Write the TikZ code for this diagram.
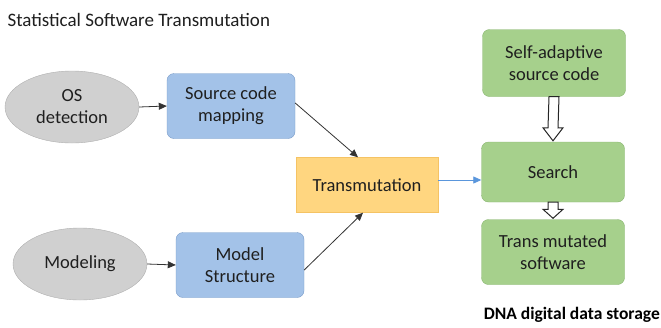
\documentclass[tikz,border=0pt]{standalone}
\usepackage{fontspec}
\setmainfont{Carlito}
\usetikzlibrary{calc,arrows.meta,shapes.geometric}
\definecolor{grayfill}{RGB}{208,208,208}
\definecolor{grayline}{RGB}{175,175,175}
\definecolor{bluefill}{RGB}{163,194,232}
\definecolor{blueline}{RGB}{120,155,200}
\definecolor{orfill}{RGB}{255,214,128}
\definecolor{orline}{RGB}{245,195,100}
\definecolor{grfill}{RGB}{166,208,140}
\definecolor{grline}{RGB}{135,180,110}
\definecolor{bluearrow}{RGB}{90,150,220}
\tikzset{
  every node/.style={font=\fontsize{18.5}{22}\selectfont, text=black!88, align=center},
  oval/.style={ellipse, draw=grayline, fill=grayfill, minimum width=134pt, minimum height=72pt, inner sep=0pt},
  bluebox/.style={draw=blueline, fill=bluefill, rounded corners=7pt, minimum width=128pt, minimum height=65pt},
  orbox/.style={draw=orline, fill=orfill, minimum width=142pt, minimum height=55pt},
  grbox/.style={draw=grline, fill=grfill, rounded corners=7pt, minimum width=143pt},
  link/.style={draw=black!80, line width=0.8pt, -{Triangle[length=8pt,width=7pt]}},
  hollow/.style={draw=black!85, line width=1pt, fill=white}
}
\begin{document}
\begin{tikzpicture}[x=1pt,y=-1pt]
\useasboundingbox (0,0) rectangle (661,327);
\node[anchor=west, font=\fontsize{19}{23}\selectfont] (title) at (4,20) {Statistical Software Transmutation};
\node[oval] (os) at (72,107) {OS\\detection};
\node[bluebox] (scm) at (231,106) {Source code\\mapping};
\node[oval] (mod) at (80,264) {Modeling};
\node[bluebox] (ms) at (240,265) {Model\\Structure};
\node[orbox] (tm) at (367,185) {Transmutation};
\node[grbox, minimum height=67pt] (sa) at (554,63) {Self-adaptive\\source code};
\node[grbox, minimum height=60pt] (se) at (553,172) {Search};
\node[grbox, minimum height=65pt] (tms) at (553,252) {Trans mutated\\software};
\node[anchor=east, inner xsep=1pt, font=\fontsize{17.5}{21}\selectfont\bfseries, text=black] (dna) at (661,315) {DNA digital data storage};
\draw[link] (os.east) -- (scm.west);
\draw[link] (mod.east) -- (ms.west);
\draw[link] ($(scm.east)+(0,-3)$) -- ($(tm.north)+(-9,0)$);
\draw[link] ($(ms.east)+(0,5)$) -- ($(tm.south)+(-4,0)$);
\draw[draw=bluearrow, line width=0.8pt, -{Triangle[length=8pt,width=7pt]}] ($(tm.east)+(0,-5)$) -- ($(se.west)+(0,8)$);
\draw[hollow] ($(sa.south)+(-5,0)$) -- ($(se.north)+(-5,-14)$) -- ($(se.north)+(-10,-14)$) -- ($(se.north)+(0,-1)$) -- ($(se.north)+(10,-14)$) -- ($(se.north)+(5,-14)$) -- ($(sa.south)+(5,0)$) -- cycle;
\draw[hollow] ($(se.south)+(-5,0)$) -- ($(tms.north)+(-5,-10)$) -- ($(tms.north)+(-10,-10)$) -- ($(tms.north)+(0,-1)$) -- ($(tms.north)+(10,-10)$) -- ($(tms.north)+(5,-10)$) -- ($(se.south)+(5,0)$) -- cycle;
\end{tikzpicture}
\end{document}
